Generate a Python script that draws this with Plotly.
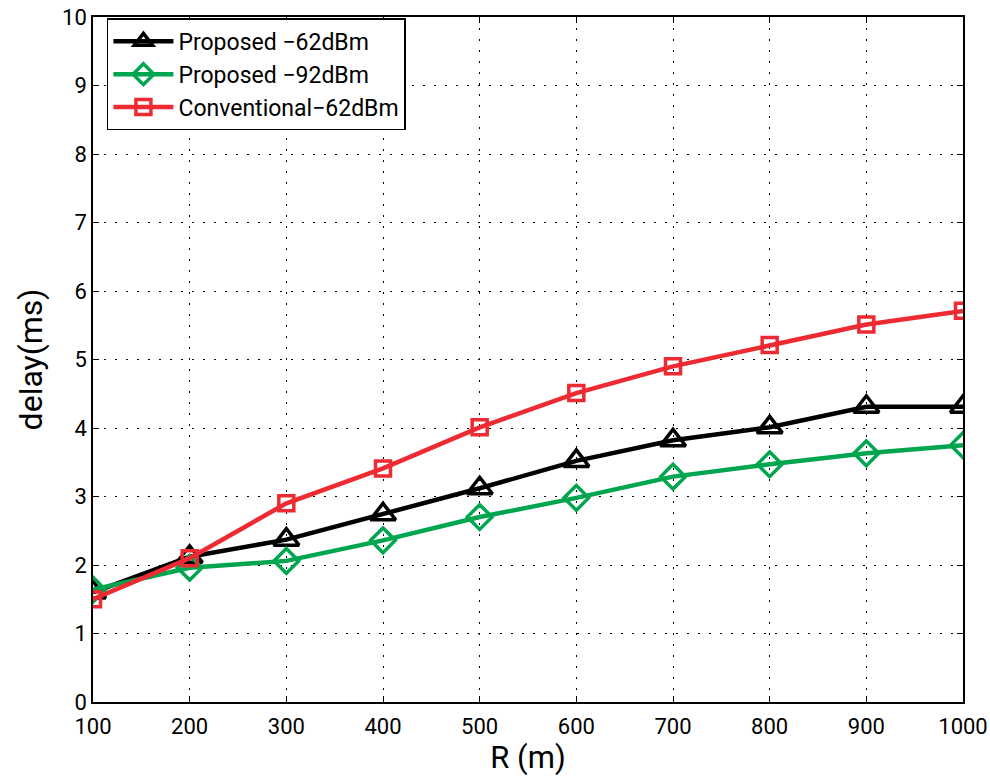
import plotly.graph_objects as go

R = [100, 200, 300, 400, 500, 600, 700, 800, 900, 1000]
proposed_62 = [1.6, 2.12, 2.37, 2.74, 3.12, 3.52, 3.82, 4.01, 4.31, 4.31]
proposed_92 = [1.64, 1.96, 2.06, 2.36, 2.70, 2.98, 3.29, 3.47, 3.63, 3.75]
conventional_62 = [1.5, 2.1, 2.9, 3.41, 4.01, 4.51, 4.9, 5.21, 5.51, 5.71]
names = ["Proposed \u221262dBm", "Proposed \u221292dBm", "Conventional\u221262dBm"]
colors = ["#000000", "#00a64f", "#ee2a33"]
symbols = ["triangle-up-open", "diamond-open", "square-open"]
sizes = [22, 19, 15]
x_ticks = [100, 200, 300, 400, 500, 600, 700, 800, 900, 1000]
y_ticks = list(range(0, 11))

fig = go.Figure()
for ys, nm, c, s, sz in zip([proposed_62, proposed_92, conventional_62], names, colors, symbols, sizes):
    fig.add_trace(go.Scatter(
        x=R, y=ys, name=nm, mode="lines+markers",
        line=dict(color=c, width=4.5),
        marker=dict(symbol=s, size=sz, color=c, line=dict(color=c, width=3.5)),
    ))

font_family = "Roboto, Open Sans, sans-serif"
axis_common = dict(
    showline=True, linecolor="black", linewidth=1.5, mirror="ticks",
    ticks="inside", ticklen=6, tickcolor="black", tickwidth=1,
    showgrid=True, gridcolor="black", gridwidth=1, griddash="2px,9px",
    zeroline=False, automargin=False,
    tickfont=dict(size=22, color="black", family=font_family),
)
fig.update_xaxes(range=[100, 1000], tickvals=x_ticks, ticklabelstandoff=4,
                 title=dict(text="R (m)", font=dict(size=31, family=font_family, color="black"), standoff=0),
                 **axis_common)
fig.update_yaxes(range=[0, 10], tickvals=y_ticks,
                 title=dict(text="delay(ms)", font=dict(size=32, family=font_family, color="black"), standoff=10),
                 **axis_common)
fig.update_layout(
    width=990, height=776,
    margin=dict(l=93, r=27, t=17, b=74),
    plot_bgcolor="white", paper_bgcolor="white",
    font=dict(family=font_family, color="black"),
    legend=dict(x=0.016, y=0.998, xanchor="left", yanchor="top",
                bgcolor="white", bordercolor="black", borderwidth=1.5,
                font=dict(size=23, family=font_family, color="black"),
                itemwidth=60, tracegroupgap=0),
    showlegend=True,
)
fig.write_html("out.html")
